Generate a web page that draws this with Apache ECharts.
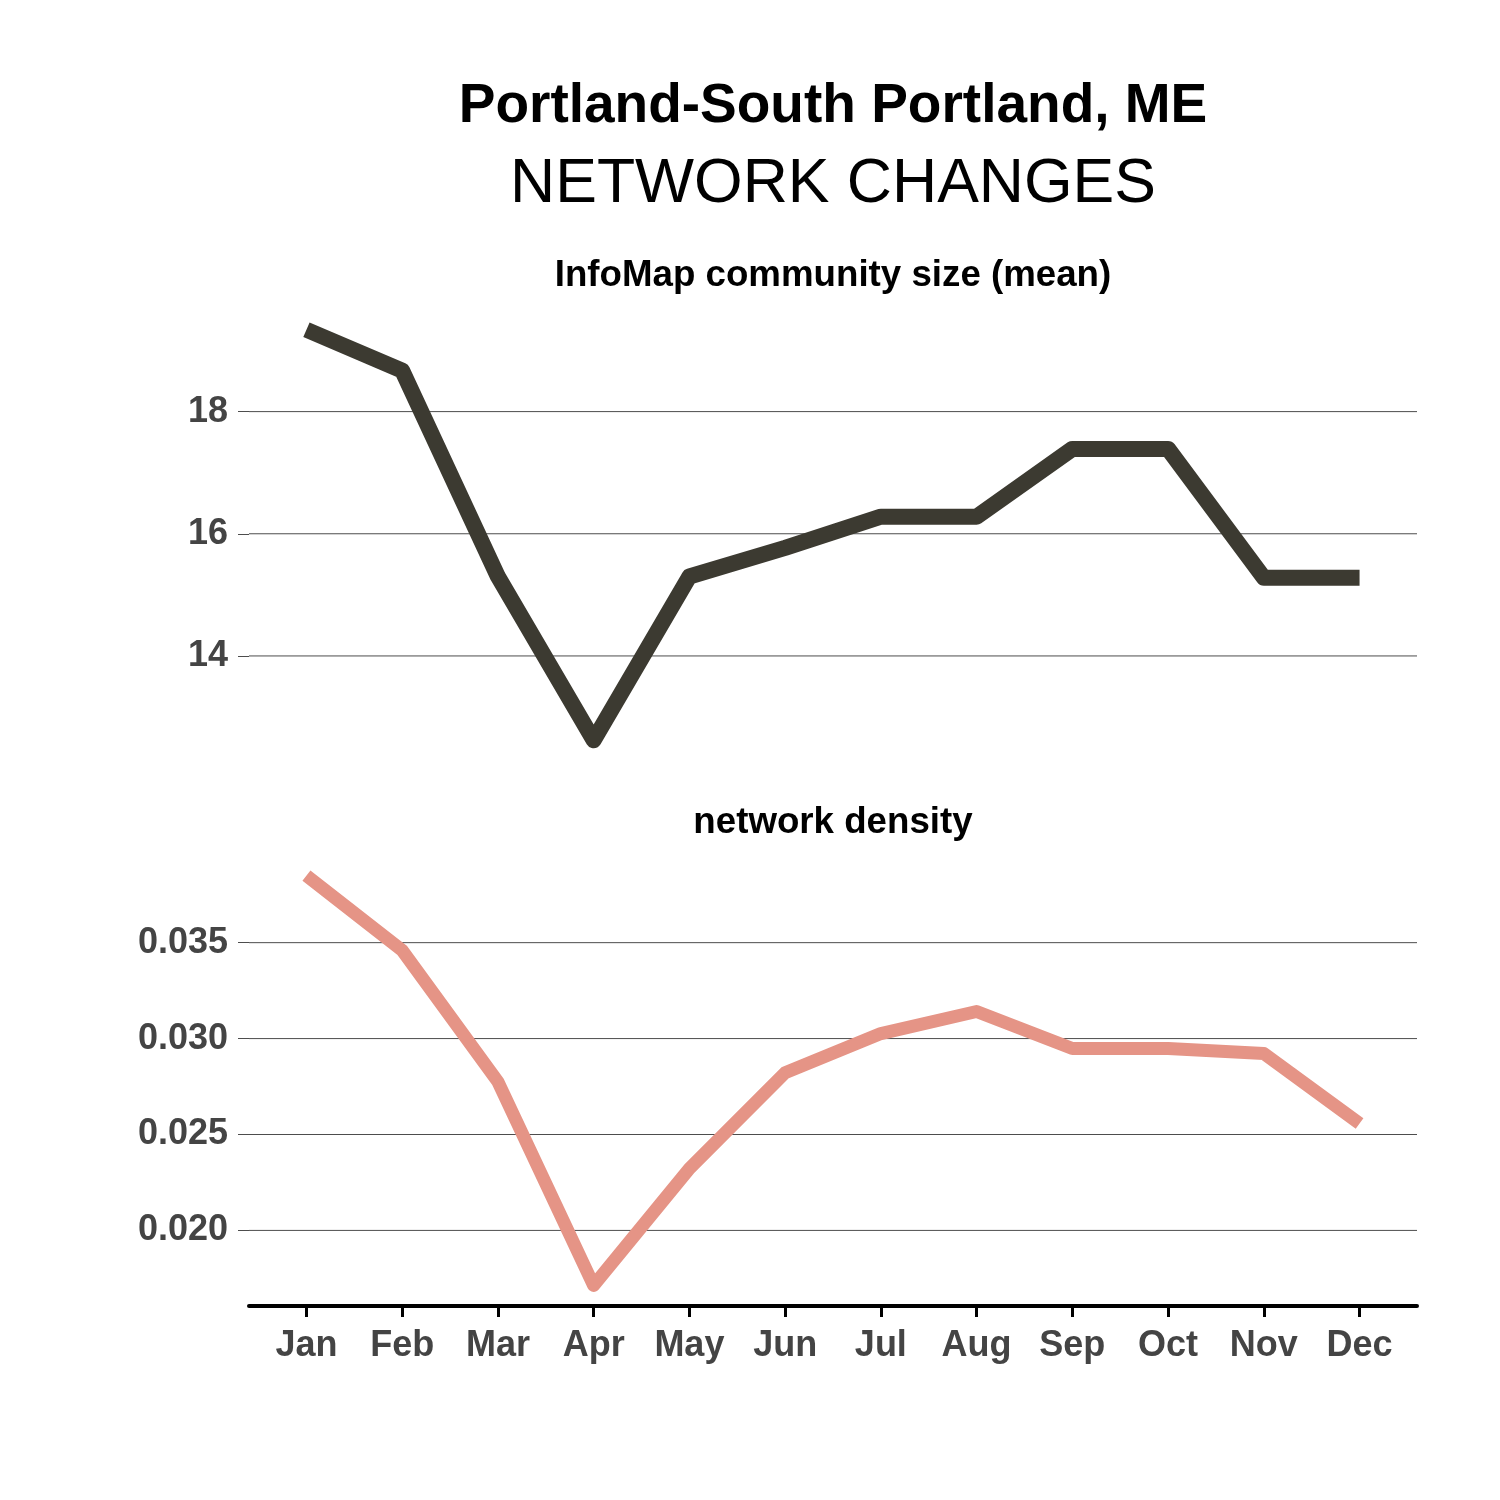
<!DOCTYPE html>
<html>
<head>
<meta charset="utf-8">
<script src="https://cdn.jsdelivr.net/npm/echarts@6/dist/echarts.min.js"></script>
<style>
  html, body { margin: 0; padding: 0; background: #fff; }
  #main { width: 1500px; height: 1500px; }
</style>
</head>
<body>
<div id="main"></div>
<script>
// months on the shared x axis
var months = ['Jan', 'Feb', 'Mar', 'Apr', 'May', 'Jun', 'Jul', 'Aug', 'Sep', 'Oct', 'Nov', 'Dec'];
// InfoMap community size (mean)
var communitySize = [19.34, 18.67, 15.30, 12.62, 15.30, 15.77, 16.28, 16.28, 17.39, 17.39, 15.28, 15.28];
// network density
var density = [0.0385, 0.0346, 0.02775, 0.01713, 0.02322, 0.02822, 0.03026, 0.03141, 0.02948, 0.02948, 0.02922, 0.02557];
// tick values
var sizeTicks = [14, 16, 18];
var densityTicks = [0.020, 0.025, 0.030, 0.035];

var chart = echarts.init(document.getElementById('main'), null, { renderer: 'canvas' });

var FONT = 'Liberation Sans, Arial, Helvetica, sans-serif';
var gridColor = '#4d4d4d';
var X_MIN = -0.6, X_MAX = 11.6;
var monthIdx = months.map(function (m, i) { return i; });

function pairs(arr) {
  return arr.map(function (v, i) { return [i, v]; });
}

// one thin horizontal series per tick, so the gridlines go through the axes
function gridSeries(idx, ticks) {
  return ticks.map(function (t) {
    return {
      type: 'line', xAxisIndex: idx, yAxisIndex: idx, z: 1, silent: true,
      showSymbol: false,
      data: [[X_MIN, t], [X_MAX, t]],
      lineStyle: { color: gridColor, width: 1 }
    };
  });
}

function yAxisFor(idx, min, max, ticks, fmt) {
  return {
    gridIndex: idx, type: 'value', min: min, max: max,
    splitLine: { show: false },
    axisLine: { show: false, onZero: false },
    axisTick: { show: true, customValues: ticks, length: 11, lineStyle: { color: gridColor, width: 1 } },
    axisLabel: {
      customValues: ticks, margin: 21, padding: [6, 0, 0, 0],
      formatter: fmt,
      color: '#444', fontWeight: 'bold', fontSize: 36, fontFamily: FONT
    }
  };
}

var option = {
  backgroundColor: '#fff',
  animation: false,
  grid: [
    { left: 249, right: 83, top: 309, height: 452 },
    { left: 249, right: 83, top: 855, height: 451 }
  ],
  xAxis: [
    {
      gridIndex: 0, type: 'value', min: X_MIN, max: X_MAX,
      show: false, splitLine: { show: false }
    },
    {
      gridIndex: 1, type: 'value', min: X_MIN, max: X_MAX,
      splitLine: { show: false },
      axisLine: { show: true, onZero: false, lineStyle: { color: '#000', width: 4 } },
      axisTick: { show: true, customValues: monthIdx, length: 11, lineStyle: { color: '#000', width: 3 } },
      axisLabel: {
        customValues: monthIdx, margin: 22,
        formatter: function (v) { return months[Math.round(v)]; },
        color: '#444', fontWeight: 'bold', fontSize: 36, fontFamily: FONT
      }
    }
  ],
  yAxis: [
    yAxisFor(0, 12.28, 19.68, sizeTicks, function (v) { return String(v); }),
    yAxisFor(1, 0.01606, 0.03957, densityTicks, function (v) { return v.toFixed(3); })
  ],
  series: gridSeries(0, sizeTicks).concat(gridSeries(1, densityTicks)).concat([
    {
      name: 'InfoMap community size (mean)',
      type: 'line', xAxisIndex: 0, yAxisIndex: 0, z: 3,
      data: pairs(communitySize),
      showSymbol: false,
      lineStyle: { color: '#3c3a31', width: 16, join: 'round', cap: 'butt' }
    },
    {
      name: 'network density',
      type: 'line', xAxisIndex: 1, yAxisIndex: 1, z: 3,
      data: pairs(density),
      showSymbol: false,
      lineStyle: { color: '#e59486', width: 13, join: 'round', cap: 'butt' }
    }
  ]),
  // titles as text elements, centred over the panels
  graphic: [
    {
      type: 'text', x: 833, y: 107,
      style: { text: 'Portland-South Portland, ME', fontSize: 55, fontWeight: 'bold', fontFamily: FONT,
        fill: '#000', align: 'center', verticalAlign: 'middle' }
    },
    {
      type: 'text', x: 833, y: 185,
      style: { text: 'NETWORK CHANGES', fontSize: 62.5, fontFamily: FONT,
        fill: '#000', align: 'center', verticalAlign: 'middle' }
    },
    {
      type: 'text', x: 833, y: 276,
      style: { text: 'InfoMap community size (mean)', fontSize: 36.7, fontWeight: 'bold', fontFamily: FONT,
        fill: '#000', align: 'center', verticalAlign: 'middle' }
    },
    {
      type: 'text', x: 833, y: 823,
      style: { text: 'network density', fontSize: 36.7, fontWeight: 'bold', fontFamily: FONT,
        fill: '#000', align: 'center', verticalAlign: 'middle' }
    }
  ]
};

chart.setOption(option);
</script>
</body>
</html>
